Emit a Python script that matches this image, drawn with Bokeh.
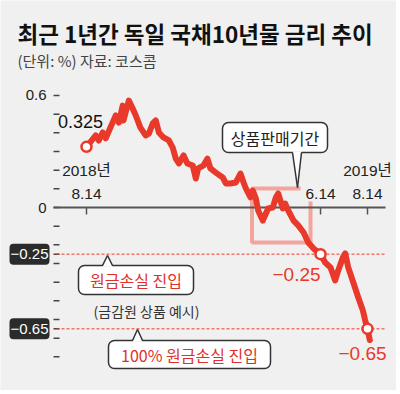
import pandas as pd
from bokeh.plotting import figure
from bokeh.models import Range1d
from bokeh.core.properties import value
from bokeh.embed import file_html
from bokeh.resources import INLINE

# ---------------- data ----------------
dates = ["2018-08-14", "2018-08-26", "2018-08-30", "2018-09-04", "2018-09-08", "2018-09-14",
         "2018-09-21", "2018-09-25", "2018-09-30", "2018-10-01", "2018-10-08", "2018-10-13",
         "2018-10-17", "2018-10-23", "2018-10-30", "2018-11-03", "2018-11-08", "2018-11-12",
         "2018-11-16", "2018-11-22", "2018-11-29", "2018-12-04", "2018-12-08", "2018-12-12",
         "2018-12-18", "2018-12-23", "2018-12-30", "2019-01-03", "2019-01-06", "2019-01-13",
         "2019-01-18", "2019-01-22", "2019-01-29", "2019-02-07", "2019-02-11", "2019-02-17",
         "2019-02-24", "2019-03-02", "2019-03-06", "2019-03-09", "2019-03-15", "2019-03-18",
         "2019-03-22", "2019-03-25", "2019-03-31", "2019-04-04", "2019-04-07", "2019-04-13",
         "2019-04-17", "2019-04-20", "2019-04-26", "2019-04-29", "2019-05-03", "2019-05-10",
         "2019-05-16", "2019-05-23", "2019-05-29", "2019-06-05", "2019-06-14", "2019-06-20",
         "2019-06-27", "2019-07-03", "2019-07-07", "2019-07-13", "2019-07-16", "2019-07-20",
         "2019-07-27", "2019-08-02", "2019-08-08", "2019-08-11", "2019-08-14", "2019-08-17"]
rates = [0.325, 0.386, 0.359, 0.402, 0.370, 0.428,
         0.493, 0.455, 0.546, 0.466, 0.573, 0.530,
         0.493, 0.428, 0.386, 0.396, 0.450, 0.466,
         0.402, 0.375, 0.359, 0.321, 0.262, 0.236,
         0.279, 0.236, 0.225, 0.155, 0.209, 0.225,
         0.262, 0.209, 0.187, 0.161, 0.129, 0.129,
         0.134, 0.182, 0.134, 0.102, 0.054, 0.091,
         0.048, -0.016, -0.070, -0.032, -0.005, 0.000,
         0.054, 0.075, -0.005, 0.021, -0.016, -0.070,
         -0.096, -0.134, -0.187, -0.220, -0.250, -0.295,
         -0.321, -0.391, -0.337, -0.268, -0.246, -0.321,
         -0.407, -0.482, -0.552, -0.605, -0.650, -0.710]

start_date = "2018-08-14"
marker_dates = ["2018-08-14", "2019-06-14", "2019-08-14"]
marker_rates = [0.325, -0.25, -0.65]
marker_labels = ["0.325", "\u22120.25", "\u22120.65"]

y_ticks = [0.6, 0.5, 0.4, 0.3, 0.2, 0.1, 0.0, -0.1, -0.2, -0.25, -0.3,
           -0.4, -0.5, -0.6, -0.65, -0.7, -0.8]
y_tick_labels = ["0.6", "0"]
y_tick_label_values = [0.6, 0.0]
loss_levels = [-0.25, -0.65]
loss_labels = ["\u22120.25", "\u22120.65"]

x_tick_dates = ["2018-08-14", "2019-06-14", "2019-08-14"]
x_tick_years = ["2018\ub144", "", "2019\ub144"]
x_tick_days = ["8.14", "6.14", "8.14"]

sale_period = ["2019-03-17", "2019-06-01"]
sale_range = [0.102, -0.187]

title = "최근 1년간 독일 국채10년물 금리 추이"
subtitle = "(단위: %) 자료: 코스콤"
callout_sale = "상품판매기간"
callout_loss = "원금손실 진입"
callout_loss_note = "(금감원 상품 예시)"
callout_full = "100% 원금손실 진입"

# ---------------- helpers ----------------
BG = "#f0f0f0"
RED = "#e8392a"
DARK = "#222222"
KR = value("Noto Sans CJK KR")
NUM = value("Liberation Sans Narrow, Liberation Sans, Noto Sans CJK KR")

t0 = pd.Timestamp(start_date)
def days(ds):
    return [(pd.Timestamp(d) - t0).days for d in ds]

# pixel <-> data helpers (image pixel coordinates of the 400x394 page)
X0, KX = 86.0, 281.0 / 365.0
Y0, KY = 207.0, 186.67
def dx(px):
    return (px - X0) / KX
def dy(py):
    return (Y0 - py) / KY

W, H = 396, 390
p = figure(width=W, height=H,
           x_range=Range1d(dx(0), dx(W)), y_range=Range1d(dy(H), dy(0)),
           toolbar_location=None, output_backend="svg", min_border=0,
           x_axis_location=None, y_axis_location=None,
           background_fill_color=BG, border_fill_color=BG, outline_line_color=None)
p.grid.visible = False

# title
p.text(x=[dx(17)], y=[dy(32)], text=[title], text_font=KR, text_font_size="22.5px",
       text_font_style="bold", text_color="#111111", text_align="left", text_baseline="middle")
p.text(x=[dx(17)], y=[dy(60)], text=[subtitle], text_font=KR, text_font_size="15px",
       text_color="#444444", text_align="left", text_baseline="middle")

# y ticks
p.segment(x0=[dx(53)] * len(y_ticks), y0=y_ticks, x1=[dx(59)] * len(y_ticks), y1=y_ticks,
          line_color="#444444", line_width=1.5)
p.text(x=[dx(46)] * len(y_tick_labels), y=y_tick_label_values, text=y_tick_labels,
       text_font=NUM, text_font_size="15px", text_color=DARK,
       text_align="right", text_baseline="middle")

# loss threshold dashed lines
p.segment(x0=[dx(56)] * 2, y0=loss_levels, x1=[dx(385)] * 2, y1=loss_levels,
          line_color=RED, line_width=1, line_dash="3 2")
# dark boxes for threshold labels
p.quad(left=[dx(9)] * 2, right=[dx(49)] * 2,
       top=[v + 10.5 / KY for v in loss_levels], bottom=[v - 10.5 / KY for v in loss_levels],
       fill_color="#2b2b2b", line_color=None, border_radius=4)
p.text(x=[dx(29)] * 2, y=loss_levels, text=loss_labels, text_font=NUM,
       text_font_size="15px", text_color="white", text_align="center", text_baseline="middle")

# sale period box
sp = days(sale_period)
p.quad(left=[sp[0]], right=[sp[1]], top=[sale_range[0]], bottom=[sale_range[1]],
       fill_color=None, line_color="#f2a59d", line_width=4)

# cover behind the 6.14 label
p.quad(left=[dx(300)], right=[dx(336)], top=[dy(183)], bottom=[dy(201)],
       fill_color=BG, line_color=None)

# zero axis line and x ticks
p.segment(x0=[dx(53)], y0=[0], x1=[dx(385)], y1=[0], line_color="#555555", line_width=2)
xt = days(x_tick_dates)
p.segment(x0=xt, y0=[0] * 3, x1=xt, y1=[dy(214)] * 3, line_color="#555555", line_width=1.5)
p.text(x=xt, y=[dy(170)] * 3, text=x_tick_years, text_font=NUM, text_font_size="15.5px",
       text_color=DARK, text_align="center", text_baseline="middle")
p.text(x=xt, y=[dy(193)] * 3, text=x_tick_days, text_font=NUM, text_font_size="15.5px",
       text_color=DARK, text_align="center", text_baseline="middle")

# callouts
def callout(l, r, t, b, tip_x, tip_y, base_l, base_r, up):
    p.quad(left=[dx(l)], right=[dx(r)], top=[dy(t)], bottom=[dy(b)],
           fill_color="white", line_color="#333333", line_width=1.5, border_radius=6)
    base_y = t if up else b
    inner = base_y + (1.2 if up else -1.2)
    p.patch(x=[dx(base_l), dx(base_r), dx(tip_x)], y=[dy(inner), dy(inner), dy(tip_y)],
            fill_color="white", line_color=None)
    p.multi_line(xs=[[dx(base_l), dx(tip_x)], [dx(base_r), dx(tip_x)]],
                 ys=[[dy(base_y), dy(tip_y)], [dy(base_y), dy(tip_y)]],
                 line_color="#333333", line_width=1.5)

callout(222, 327, 122, 152, 297, 187, 292, 301, up=False)
p.text(x=[dx(274.5)], y=[dy(137)], text=[callout_sale], text_font=KR, text_font_size="16px",
       text_color=DARK, text_align="center", text_baseline="middle")

callout(78, 193, 265, 294, 107, 255, 102, 112, up=True)
p.text(x=[dx(135.5)], y=[dy(279.5)], text=[callout_loss], text_font=KR, text_font_size="16px",
       text_color="#e0302a", text_align="center", text_baseline="middle")
p.text(x=[dx(146)], y=[dy(310)], text=[callout_loss_note], text_font=KR, text_font_size="14px",
       text_color="#333333", text_align="center", text_baseline="middle")

callout(108, 270, 340, 368, 137, 329, 132, 142, up=True)
p.text(x=[dx(189)], y=[dy(354)], text=[callout_full], text_font=KR, text_font_size="16px",
       text_color="#e0302a", text_align="center", text_baseline="middle")

# the rate line
p.line(x=days(dates), y=rates, line_color=RED, line_width=6, line_join="round", line_cap="round")

# markers
md = days(marker_dates)
p.scatter(x=md, y=marker_rates, size=10, fill_color="white", line_color=RED, line_width=2.5)

# value labels
p.text(x=[dx(80)], y=[dy(121)], text=[marker_labels[0]], text_font=NUM, text_font_size="18px",
       text_color="#111111", text_align="center", text_baseline="middle")
p.text(x=[dx(296), dx(362)], y=[dy(274), dy(353)], text=marker_labels[1:], text_font=NUM,
       text_font_size="19px", text_color=RED, text_align="center", text_baseline="middle")

open("out.html", "w").write(file_html(p, INLINE))
